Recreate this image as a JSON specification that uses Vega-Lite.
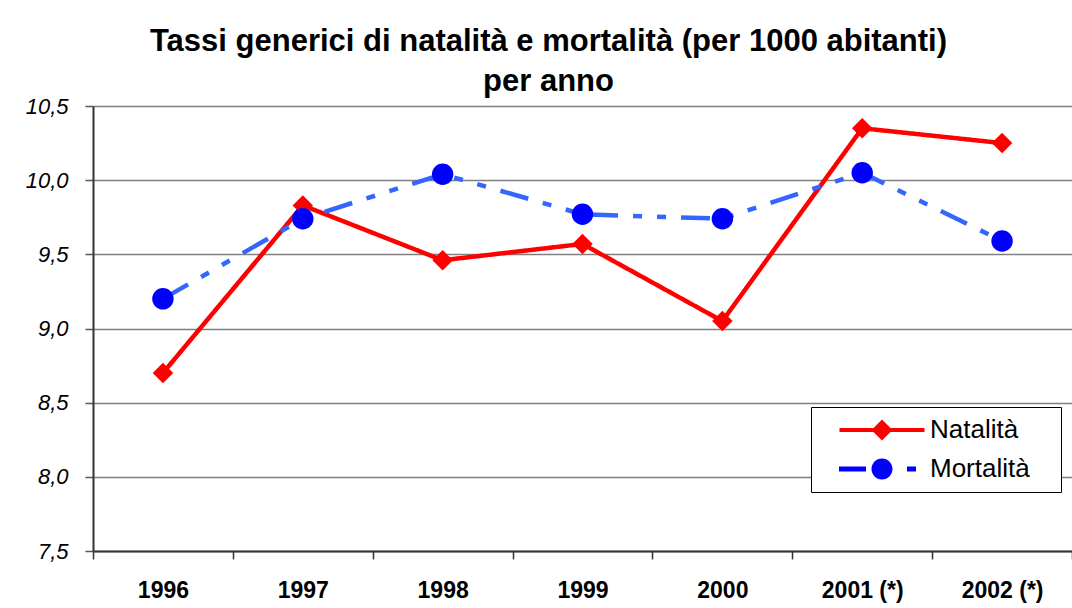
{
  "$schema": "https://vega.github.io/schema/vega-lite/v6.json",
  "width": 979,
  "height": 445,
  "autosize": "none",
  "padding": {"left": 93, "top": 106, "right": 0, "bottom": 57},
  "background": "white",
  "config": {
    "font": "Liberation Sans",
    "view": {"stroke": null}
  },
  "title": {
    "text": ["Tassi generici di natalità e mortalità (per 1000 abitanti)", "per anno"],
    "font": "Liberation Sans",
    "fontSize": 31,
    "fontWeight": "bold",
    "color": "black",
    "lineHeight": 40,
    "anchor": "middle",
    "frame": "group",
    "dx": -34,
    "offset": -3
  },
  "data": {
    "values": [
      {"anno": "1996", "serie": "Natalità", "valore": 8.70},
      {"anno": "1997", "serie": "Natalità", "valore": 9.83},
      {"anno": "1998", "serie": "Natalità", "valore": 9.46},
      {"anno": "1999", "serie": "Natalità", "valore": 9.57},
      {"anno": "2000", "serie": "Natalità", "valore": 9.05},
      {"anno": "2001 (*)", "serie": "Natalità", "valore": 10.35},
      {"anno": "2002 (*)", "serie": "Natalità", "valore": 10.25},
      {"anno": "1996", "serie": "Mortalità", "valore": 9.20},
      {"anno": "1997", "serie": "Mortalità", "valore": 9.74},
      {"anno": "1998", "serie": "Mortalità", "valore": 10.04},
      {"anno": "1999", "serie": "Mortalità", "valore": 9.77},
      {"anno": "2000", "serie": "Mortalità", "valore": 9.74},
      {"anno": "2001 (*)", "serie": "Mortalità", "valore": 10.05},
      {"anno": "2002 (*)", "serie": "Mortalità", "valore": 9.59}
    ]
  },
  "encoding": {
    "x": {
      "field": "anno",
      "type": "ordinal",
      "sort": null,
      "scale": {"type": "band", "paddingInner": 0, "paddingOuter": 0},
      "axis": {
        "title": null,
        "labelAngle": 0,
        "labelFont": "Liberation Sans",
        "labelFontSize": 23,
        "labelFontWeight": "bold",
        "labelColor": "black",
        "labelPadding": 20,
        "tickBand": "extent",
        "tickSize": 8,
        "tickColor": "#333333",
        "tickWidth": 1.5,
        "domainColor": "#333333",
        "domainWidth": 2,
        "grid": false
      }
    },
    "y": {
      "field": "valore",
      "type": "quantitative",
      "scale": {"domain": [7.5, 10.5], "nice": false, "zero": false},
      "axis": {
        "title": null,
        "values": [7.5, 8, 8.5, 9, 9.5, 10, 10.5],
        "labelExpr": "replace(format(datum.value, '.1f'), '.', ',')",
        "labelFont": "Liberation Sans",
        "labelFontSize": 22,
        "labelFontStyle": "italic",
        "labelColor": "black",
        "labelPadding": 17,
        "tickSize": 8,
        "tickColor": "#555555",
        "tickWidth": 1.5,
        "domainColor": "#333333",
        "domainWidth": 2,
        "grid": true,
        "gridColor": "#808080",
        "gridWidth": 1.5
      }
    }
  },
  "layer": [
    {
      "mark": {"type": "line", "strokeWidth": 4.5},
      "encoding": {
        "stroke": {
          "field": "serie",
          "type": "nominal",
          "scale": {"range": ["#3366FF", "#FF0000"]},
          "legend": null
        },
        "strokeDash": {
          "field": "serie",
          "type": "nominal",
          "scale": {"range": [[29, 15, 9, 15, 9, 15], [1, 0]]},
          "legend": null
        }
      }
    },
    {
      "transform": [{"filter": "datum.serie === 'Natalità'"}],
      "mark": {"type": "point", "filled": true, "opacity": 1, "shape": "diamond", "size": 420},
      "encoding": {
        "fill": {
          "field": "serie",
          "type": "nominal",
          "scale": {"domain": ["Natalità", "Mortalità"], "range": ["#FF0000", "#0000FF"]}
        }
      }
    },
    {
      "transform": [{"filter": "datum.serie === 'Mortalità'"}],
      "mark": {"type": "point", "filled": true, "opacity": 1, "shape": "circle", "size": 460},
      "encoding": {
        "fill": {
          "field": "serie",
          "type": "nominal",
          "scale": {"domain": ["Natalità", "Mortalità"], "range": ["#FF0000", "#0000FF"]}
        }
      }
    },
    {
      "transform": [{"filter": "datum.valore > 100"}],
      "mark": {"type": "point", "filled": true, "opacity": 1},
      "encoding": {
        "fill": {
          "field": "serie",
          "type": "nominal",
          "scale": {"domain": ["Natalità", "Mortalità"], "range": ["#FF0000", "#0000FF"]}
        },
        "shape": {
          "field": "serie",
          "type": "nominal",
          "scale": {
            "domain": ["Natalità", "Mortalità"],
            "range": [
              "M-4.25,-0.2H4.25V0.2H-4.25Z M0,-1.05L1.05,0L0,1.05L-1.05,0Z M16.8,-0.01L16.81,0L16.8,0.01Z",
              "M-4.3,-0.25H-1.6V0.25H-4.3Z M2.5,-0.25H3.4V0.25H2.5Z M-1.05,0A1.05,1.05 0 1,1 1.05,0A1.05,1.05 0 1,1 -1.05,0Z"
            ]
          },
          "legend": {
            "title": null,
            "orient": "none",
            "legendX": 718,
            "legendY": 301,
            "strokeColor": "black",
            "fillColor": "white",
            "padding": 10,
            "symbolSize": 400,
            "symbolOffset": 48,
            "labelOffset": 35,
            "labelFont": "Liberation Sans",
            "labelFontSize": 26,
            "labelColor": "black",
            "rowPadding": 13
          }
        }
      }
    }
  ]
}
